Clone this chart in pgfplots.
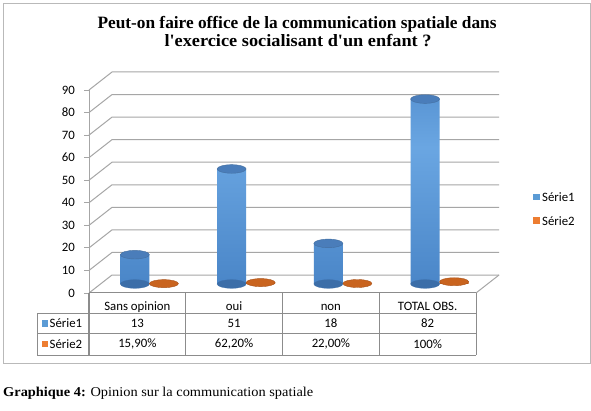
\documentclass[border=0pt]{standalone}
\usepackage{fontspec}
\usepackage{graphicx}
\usepackage{pgfplots}
\usepackage{pgfplotstable}
\pgfplotsset{compat=1.18}
\newfontfamily\tnr{Liberation Serif}
\newfontfamily\calib{Carlito}
\definecolor{cb1}{HTML}{2F5F96}
\definecolor{cb2}{HTML}{4A86C8}
\definecolor{cb3}{HTML}{6AA6E2}
\definecolor{cbtop}{HTML}{4A7DBA}
\definecolor{cbbot}{HTML}{3C6EA8}
\definecolor{cor}{HTML}{C9641F}
\definecolor{corline}{HTML}{A9521A}
\definecolor{legblue}{HTML}{5B9BD5}
\definecolor{legorange}{HTML}{ED7D31}
\definecolor{gridc}{HTML}{A6A6A6}
\definecolor{tabc}{HTML}{8C8C8C}
\pgfdeclarehorizontalshading{cylblue}{100bp}{color(0bp)=(cb1); color(25bp)=(cb2); color(62bp)=(cb3); color(88bp)=(cb2); color(100bp)=(cb1)}
\pgfdeclareplotmark{cylell}{\pgfpathellipse{\pgfpointorigin}{\pgfqpoint{14.5pt}{0pt}}{\pgfqpoint{0pt}{4.3pt}}\pgfusepathqfillstroke}
\pgfdeclareplotmark{discell}{\pgfpathellipse{\pgfpointorigin}{\pgfqpoint{14.5pt}{0pt}}{\pgfqpoint{0pt}{4pt}}\pgfusepathqfillstroke}
\pgfplotstableread{
x s1 s2
0 13 0.159
1 51 0.622
2 18 0.22
3 82 1.0
}\data
\begin{document}
\begin{tikzpicture}
\path[use as bounding box, fill=white] (0,0) rectangle (591pt,-411pt);
\draw[gray!55, line width=0.8pt] (3pt,-3pt) rectangle (590pt,-363pt);
\node[anchor=base, inner sep=0pt, font=\tnr\bfseries\fontsize{17.3}{19}\selectfont] at (297pt,-28.5pt) {Peut-on faire office de la communication spatiale dans};
\node[anchor=base, inner sep=0pt, font=\tnr\bfseries\fontsize{17.3}{19}\selectfont] at (298pt,-47pt) {\resizebox{267pt}{\height}{l'exercice socialisant d'un enfant ?}};
% main axis (front plane, grid, ticks)
\begin{axis}[
  at={(89pt,-293pt)}, anchor=south west,
  width=387pt, height=203pt, scale only axis,
  xmin=-0.5, xmax=3.5, ymin=0, ymax=90,
  clip=false,
  axis line style={draw=none},
  tick pos=left, tick align=outside,
  major tick length=5pt,
  ytick={0,10,...,90},
  ytick style={draw=gridc, line width=0.9pt},
  xtick={0,1,2,3},
  xticklabels={Sans opinion, oui, non, TOTAL OBS.},
  xtick style={draw=none},
  /pgf/number format/assume math mode=true,
  yticklabel style={font=\calib\fontsize{12.8}{14}\selectfont, anchor=east, inner sep=0pt, xshift=-9pt},
  xticklabel style={font=\calib\fontsize{12.8}{14}\selectfont, anchor=base, inner sep=0pt},
  every x tick label/.append style={yshift=-12.5pt},
]
\addplot[draw=none, forget plot] coordinates {(0,0)};
\pgfplotsinvokeforeach{0,10,20,30,40,50,60,70,80,90}{
  \draw[gridc, line width=1pt] (axis cs:-0.5,#1) -- ++(23pt,18pt) -- ([shift={(23pt,18pt)}]axis cs:3.5,#1);
}
\draw[gridc, line width=1pt] (axis cs:3.5,0) -- ++(23pt,18pt);
\draw[gridc, line width=1pt] (axis cs:-0.5,0) -- (axis cs:-0.5,90);
\end{axis}
% bars axis (mid depth)
\begin{axis}[
  at={(101pt,-284pt)}, anchor=south west,
  width=387pt, height=203pt, scale only axis,
  xmin=-0.5, xmax=3.5, ymin=0, ymax=90,
  hide axis, clip=false,
]
\addplot[only marks, mark=cylell, mark options={fill=cbbot, draw=cbbot, line width=0.3pt}] table[x expr=\thisrow{x}-0.15, y expr=0] {\data};
\addplot[ybar, bar width=29pt, bar shift=0pt, draw=none, left color=cb1, right color=cb1, shading=cylblue] table[x expr=\thisrow{x}-0.15, y=s1] {\data};
\addplot[only marks, mark=cylell, mark options={fill=cbtop, draw=cb1!90, line width=0.4pt}] table[x expr=\thisrow{x}-0.15, y=s1] {\data};
\addplot[ybar, bar width=29pt, bar shift=0pt, draw=none, fill=cor] table[x expr=\thisrow{x}+0.15, y=s2] {\data};
\addplot[only marks, mark=discell, mark options={fill=cor, draw=corline, line width=0.4pt}] table[x expr=\thisrow{x}+0.15, y=s2] {\data};
\end{axis}
% data table
\begin{scope}[tabc, line width=1pt]
\draw (89pt,-293pt) -- (476pt,-293pt);
\draw (37pt,-313pt) -- (476pt,-313pt);
\draw (37pt,-333pt) -- (476pt,-333pt);
\draw (37pt,-355pt) -- (476pt,-355pt);
\draw (37pt,-313pt) -- (37pt,-355pt);
\draw[line width=1.5pt] (89pt,-293pt) -- (89pt,-355pt);
\draw (185.75pt,-293pt) -- (185.75pt,-355pt);
\draw (282.5pt,-293pt) -- (282.5pt,-355pt);
\draw (379.25pt,-293pt) -- (379.25pt,-355pt);
\draw (476pt,-293pt) -- (476pt,-355pt);
\end{scope}
\fill[legblue] (41.5pt,-326.5pt) rectangle (48pt,-320pt);
\fill[legorange] (41.5pt,-347pt) rectangle (48pt,-340.5pt);
\begin{scope}[font=\calib\fontsize{12.8}{14}\selectfont, inner sep=0pt]
\node[anchor=west] at (49.5pt,-323pt) {Série1};
\node[anchor=west] at (49.5pt,-344pt) {Série2};
\node at (137.4pt,-323pt) {13};
\node at (234.1pt,-323pt) {51};
\node at (330.9pt,-323pt) {18};
\node at (427.6pt,-323pt) {82};
\node at (137.4pt,-344pt) {15,90\%};
\node at (234.1pt,-344pt) {62,20\%};
\node at (330.9pt,-344pt) {22,00\%};
\node at (427.6pt,-344pt) {100\%};
% legend
\fill[legblue] (533pt,-200.5pt) rectangle (539.5pt,-194pt);
\node[anchor=west] at (542pt,-197pt) {Série1};
\fill[legorange] (533pt,-224pt) rectangle (539.5pt,-217.5pt);
\node[anchor=west] at (542pt,-221pt) {Série2};
\end{scope}
\node[anchor=base west, inner sep=0pt, font=\tnr\fontsize{13.5}{15}\selectfont] at (3pt,-396pt) {\resizebox{310pt}{\height}{\textbf{Graphique 4:} Opinion sur la communication spatiale}};
\end{tikzpicture}
\end{document}
